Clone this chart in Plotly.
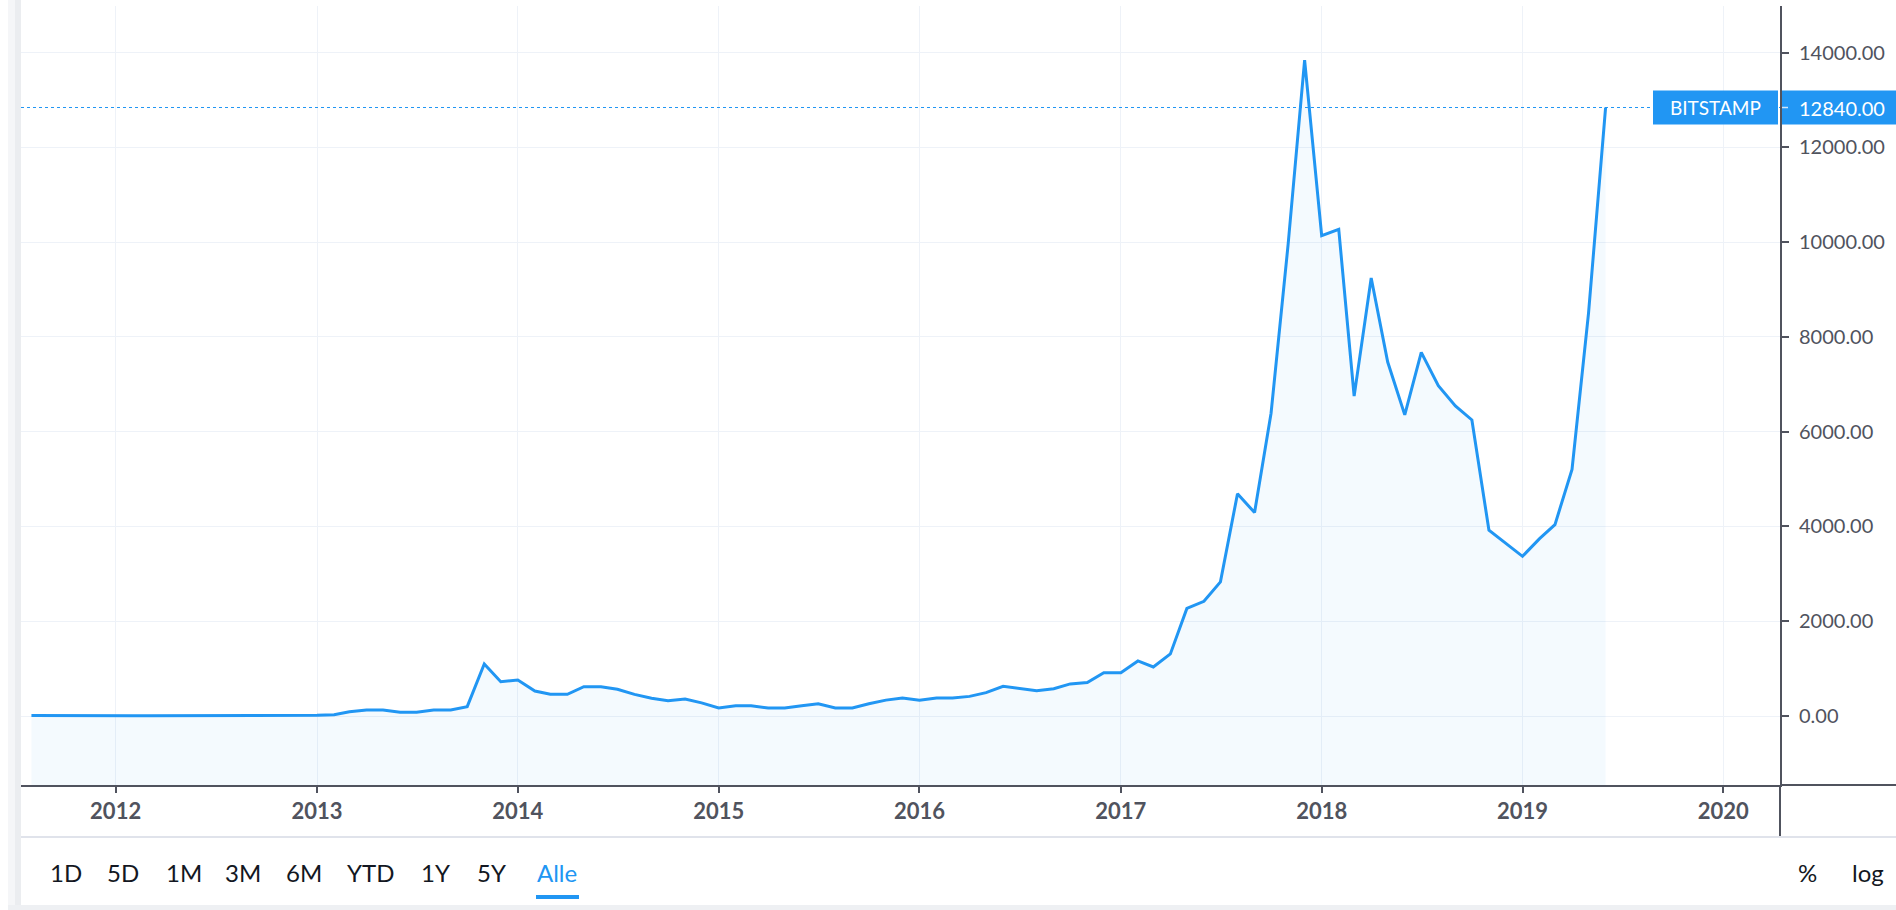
import pandas as pd
import plotly.graph_objects as go

# ---------------- data ----------------
month_start = "2011-08-01"
month_end = "2019-06-01"
prices = [
    # 2011 Aug-Dec
    8, 5, 3, 3, 5,
    # 2012
    6, 5, 5, 5, 5, 7, 9, 10, 12, 11, 12, 13,
    # 2013
    15, 28, 91, 127, 127, 80, 80, 127, 127, 197, 1097, 724,
    # 2014
    760, 528, 457, 457, 619, 619, 563, 457, 373, 323, 358, 278,
    # 2015
    170, 214, 214, 170, 170, 214, 257, 170, 170, 257, 335, 378,
    # 2016
    330, 378, 378, 414, 492, 627, 577, 535, 577, 677, 706, 913,
    # 2017
    913, 1162, 1034, 1310, 2270, 2420, 2830, 4690, 4293, 6390, 9950, 13838,
    # 2018
    10135, 10270, 6750, 9243, 7470, 6355, 7674, 6970, 6543, 6247, 3919, 3640,
    # 2019 Jan-Jun
    3369, 3743, 4039, 5203, 8500, 12840,
]
dates = pd.date_range(month_start, month_end, freq="MS")

last_label = "BITSTAMP"
last_price = prices[-1]
y_ticks = [0, 2000, 4000, 6000, 8000, 10000, 12000, 14000]
x_range = ["2011-07-13", "2020-04-13"]
y_range = [-1456, 14982]
range_buttons = ["1D", "5D", "1M", "3M", "6M", "YTD", "1Y", "5Y", "Alle"]
active_button = "Alle"
right_buttons = ["%", "log"]

# ---------------- style / layout ----------------
W, H = 1896, 910
L, R, T, B = 21, 1780, 6, 785
BLUE = "#2196f3"
AX = "#50535e"
GRID = "#eef2f8"
TXT = "#131722"
FONT = "Lato"

button_px = [66, 123, 184, 243, 304, 370, 435, 491, 557]
right_button_px = [1808, 1868]


def px2x(px):
    return (px - L) / (R - L)


def py2y(py):
    return (B - py) / (B - T)


fig = go.Figure()
fig.add_trace(go.Scatter(
    x=dates, y=[y_range[0]] * len(dates), mode="lines",
    line=dict(width=0), hoverinfo="skip", showlegend=False))
fig.add_trace(go.Scatter(
    x=dates, y=prices, mode="lines",
    line=dict(color=BLUE, width=3),
    fill="tonexty", fillcolor="rgba(33,150,243,0.05)",
    hoverinfo="skip", showlegend=False))

fig.update_layout(
    width=W, height=H,
    margin=dict(l=L, r=W - R, t=T, b=H - B, pad=0),
    paper_bgcolor="white", plot_bgcolor="white",
    showlegend=False, hovermode=False,
    font=dict(family=FONT, color=AX),
    xaxis=dict(
        type="date", range=x_range, tick0="2012-01-01", dtick="M12",
        tickformat="%Y", showgrid=True, gridcolor=GRID, gridwidth=1,
        ticks="outside", ticklen=6, tickwidth=1.5, tickcolor=AX,
        showline=True, linecolor=AX, linewidth=2, zeroline=False,
        tickfont=dict(size=22, color=AX, family=FONT, weight="bold"),
        fixedrange=True,
    ),
    yaxis=dict(
        side="right", range=y_range, tickvals=y_ticks, tickformat=".2f",
        showgrid=True, gridcolor=GRID, gridwidth=1,
        ticks="outside", ticklen=7, tickwidth=1.5, tickcolor=AX,
        showline=True, linecolor=AX, linewidth=2, zeroline=False,
        tickfont=dict(size=20, color=AX, family=FONT),
        ticklabelstandoff=6, fixedrange=True,
    ),
)

shapes = []
# dotted last price line
shapes.append(dict(type="line", xref="paper", yref="y", x0=0, x1=1,
                   y0=last_price, y1=last_price,
                   line=dict(color=BLUE, width=1, dash="dot"), layer="above"))
# label boxes
shapes.append(dict(type="rect", xref="paper", yref="y", ysizemode="pixel",
                   yanchor=last_price, y0=-17, y1=17,
                   x0=px2x(1653), x1=px2x(1778),
                   fillcolor=BLUE, line=dict(width=0), layer="above"))
shapes.append(dict(type="rect", xref="paper", yref="y", ysizemode="pixel",
                   yanchor=last_price, y0=-17, y1=17,
                   x0=px2x(1782), x1=px2x(1896),
                   fillcolor=BLUE, line=dict(width=0), layer="above"))
shapes.append(dict(type="line", xref="paper", yref="y", ysizemode="pixel",
                   yanchor=last_price, y0=0, y1=0,
                   x0=px2x(1782), x1=px2x(1788),
                   line=dict(color="#cfe6fb", width=1.5), layer="above"))
# axis extensions
shapes.append(dict(type="line", xref="paper", yref="paper", x0=1, x1=px2x(W),
                   y0=0, y1=0, line=dict(color=AX, width=2)))
shapes.append(dict(type="line", xref="paper", yref="paper", x0=1, x1=1,
                   y0=py2y(837), y1=0, line=dict(color=AX, width=2)))
# separator
shapes.append(dict(type="line", xref="paper", yref="paper", x0=0, x1=px2x(W),
                   y0=py2y(837), y1=py2y(837), line=dict(color="#e0e3eb", width=2)))
# card shadow
shapes.append(dict(type="rect", xref="paper", yref="paper", x0=px2x(8), x1=px2x(21),
                   y0=py2y(905), y1=py2y(0), fillcolor="#f5f6f8", line=dict(width=0)))
shapes.append(dict(type="rect", xref="paper", yref="paper", x0=px2x(15), x1=px2x(21),
                   y0=py2y(905), y1=py2y(0), fillcolor="#ebedf0", line=dict(width=0)))
shapes.append(dict(type="rect", xref="paper", yref="paper", x0=px2x(8), x1=px2x(W),
                   y0=py2y(910), y1=py2y(905), fillcolor="#eef0f3", line=dict(width=0)))
# active underline
shapes.append(dict(type="rect", xref="paper", yref="paper",
                   x0=px2x(536), x1=px2x(579), y0=py2y(899), y1=py2y(895),
                   fillcolor=BLUE, line=dict(width=0)))
fig.update_layout(shapes=shapes)

ann = []
ann.append(dict(text=last_label, xref="paper", yref="y", x=px2x(1715), y=last_price,
                showarrow=False, xanchor="center", yanchor="middle",
                font=dict(color="white", size=19, family=FONT)))
ann.append(dict(text=f"{last_price:.2f}", xref="paper", yref="y", x=px2x(1797), y=last_price,
                showarrow=False, xanchor="left", yanchor="middle",
                font=dict(color="white", size=20, family=FONT)))
for lab, px in zip(range_buttons, button_px):
    ann.append(dict(text=lab, xref="paper", yref="paper", x=px2x(px), y=py2y(873),
                    showarrow=False, xanchor="center", yanchor="middle",
                    font=dict(color=BLUE if lab == active_button else TXT, size=24, family=FONT)))
for lab, px in zip(right_buttons, right_button_px):
    ann.append(dict(text=lab, xref="paper", yref="paper", x=px2x(px), y=py2y(873),
                    showarrow=False, xanchor="center", yanchor="middle",
                    font=dict(color=TXT, size=24, family=FONT)))
fig.update_layout(annotations=ann)

fig.write_html("out.html", config={"displayModeBar": False},
               post_script="document.body.style.margin='0';document.body.style.overflow='hidden';")
